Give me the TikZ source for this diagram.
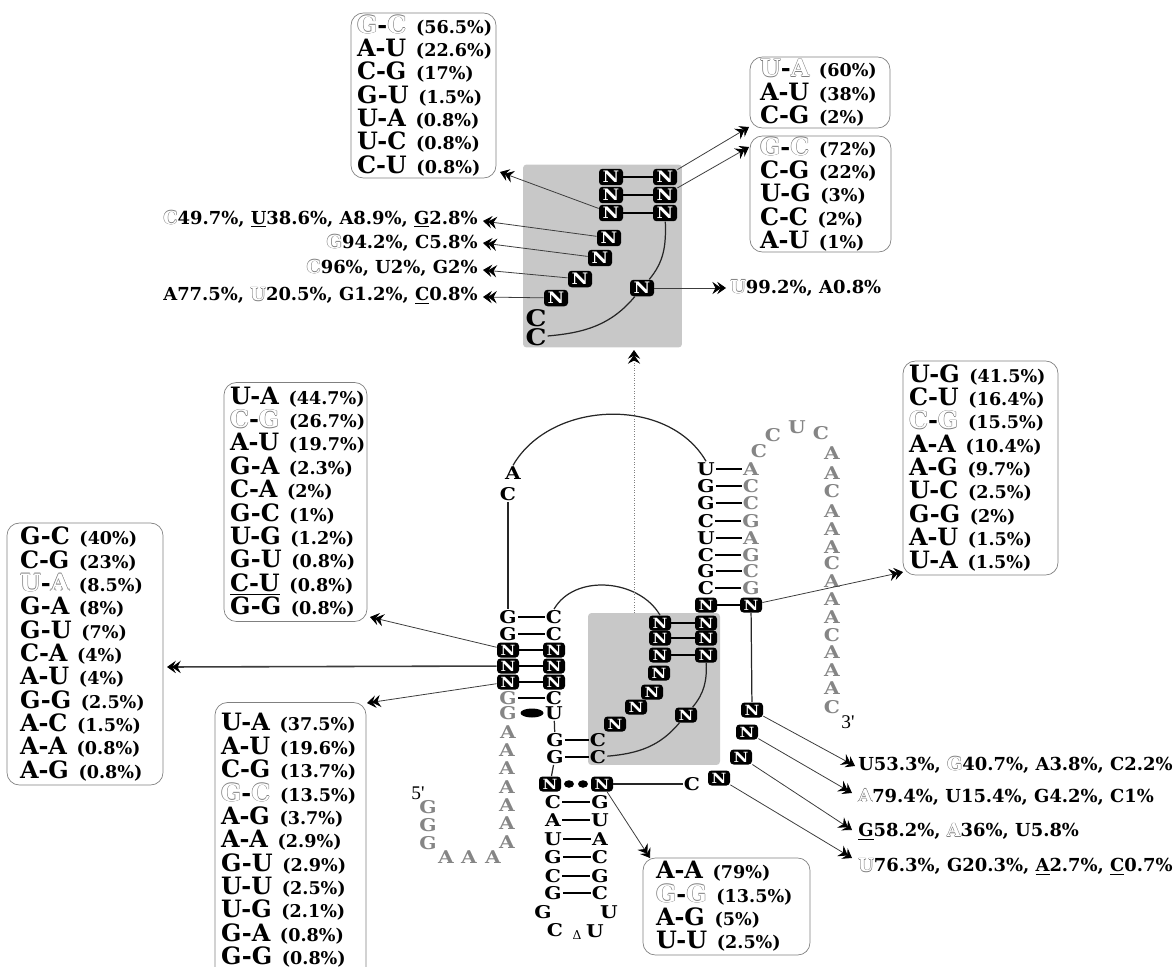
\documentclass[tikz,border=0pt]{standalone}
\usepackage{fontspec}
\setmainfont{DejaVu Serif}
\newfontfamily\primefont{Liberation Serif}
\newfontfamily\stemfont{DejaVu Serif Bold}[FakeStretch=1.15]
\usetikzlibrary{arrows.meta,shapes.geometric}
\definecolor{panel}{HTML}{C8C8C8}
\definecolor{faded}{HTML}{858585}
\definecolor{rim}{HTML}{808080}
\definecolor{wire}{HTML}{3C3C3C}
\newcommand{\hl}[1]{\leavevmode\rlap{\kern-.3pt\textcolor{rim}{#1}}\rlap{\kern.3pt\textcolor{rim}{#1}}\rlap{\raisebox{.3pt}{\textcolor{rim}{#1}}}\rlap{\raisebox{-.3pt}{\textcolor{rim}{#1}}}\textcolor{white}{#1}}
\newcommand{\bp}[2]{\mbox{{\fontsize{13.6}{13.3}\selectfont #1}\hspace{5.5pt}(#2\%)}}

\begin{document}
\begin{tikzpicture}[x=0.02cm,y=-0.02cm,
bptable/.style={draw=rim,rounded corners=7pt,align=left,inner xsep=.12cm,inner ysep=0pt,font=\fontsize{10}{13.3}\bfseries\selectfont},
panelbox/.style={fill=panel,rounded corners=2pt,inner sep=0pt},
nn/.style={fill=black,rounded corners=2pt,text=white,minimum width=.44cm,minimum height=.3cm,inner sep=0pt,font=\stemfont\fontsize{8}{8}\selectfont},
nntop/.style={nn,minimum width=.48cm,minimum height=.33cm,font=\stemfont\fontsize{9}{9}\selectfont},
ltr/.style={inner sep=.5pt,font=\stemfont\fontsize{10}{10}\selectfont},
cltr/.style={inner sep=.5pt,font=\stemfont\fontsize{13}{13}\selectfont},
gltr/.style={ltr,text=faded},
freq/.style={inner sep=0pt,font=\fontsize{10.2}{12}\bfseries\selectfont},
prime/.style={inner sep=0pt,font=\primefont\fontsize{11}{11}\selectfont},
blob/.style={ellipse,fill=black,inner sep=0pt,minimum width=.46cm,minimum height=.18cm},
dotb/.style={ellipse,fill=black,inner sep=0pt,minimum width=.2cm,minimum height=.15cm},
pair/.style={draw=black,line width=1.2pt},
strand/.style={draw=black!85,line width=.7pt},
edge/.style={-{Stealth[length=5pt,width=7pt,inset=1.8pt,sep=-2.2pt,color=black]Stealth[length=5pt,width=7pt,inset=1.8pt,color=black]},draw=wire,line width=.45pt}]
\path[use as bounding box] (0,0) rectangle (1175,966);
\clip (0,0) rectangle (1175,966);
% shaded panels
\node[panelbox,minimum width=3.18cm,minimum height=3.66cm] (toppanel) at (602.5,256) {};
\node[panelbox,minimum width=2.64cm,minimum height=3.04cm] (lowpanel) at (654,689) {};
% frequency tables
\node[bptable,text width=2.66cm,minimum height=3.3cm] (tblA) at (423.5,95.5) {\bp{\hl{G}-\hl{C}}{56.5}\\\bp{A-U}{22.6}\\\bp{C-G}{17}\\\bp{G-U}{1.5}\\\bp{U-A}{0.8}\\\bp{U-C}{0.8}\\\bp{C-U}{0.8}};
\node[bptable,text width=2.4cm,inner xsep=.2cm,minimum height=1.42cm] (tblB) at (820,92.5) {\bp{\hl{U}-\hl{A}}{60}\\\bp{A-U}{38}\\\bp{C-G}{2}};
\node[bptable,text width=2.42cm,inner xsep=.2cm,minimum height=2.32cm] (tblC) at (820.5,194) {\bp{\hl{G}-\hl{C}}{72}\\\bp{C-G}{22}\\\bp{U-G}{3}\\\bp{C-C}{2}\\\bp{A-U}{1}};
\node[bptable,text width=2.86cm,minimum height=4.28cm] (tblD) at (980.5,468) {\bp{U-G}{41.5}\\\bp{C-U}{16.4}\\\bp{\hl{C}-\hl{G}}{15.5}\\\bp{A-A}{10.4}\\\bp{A-G}{9.7}\\\bp{U-C}{2.5}\\\bp{G-G}{2}\\\bp{A-U}{1.5}\\\bp{U-A}{1.5}};
\node[bptable,text width=2.62cm,minimum height=4.78cm] (tblE) at (295.5,502) {\bp{U-A}{44.7}\\\bp{\hl{C}-\hl{G}}{26.7}\\\bp{A-U}{19.7}\\\bp{G-A}{2.3}\\\bp{C-A}{2}\\\bp{G-C}{1}\\\bp{U-G}{1.2}\\\bp{G-U}{0.8}\\\bp{\underline{C-U}}{0.8}\\\bp{G-G}{0.8}};
\node[bptable,text width=2.6cm,inner xsep=.26cm,minimum height=5.24cm] (tblF) at (85,654) {\bp{G-C}{40}\\\bp{C-G}{23}\\\bp{\hl{U}-\hl{A}}{8.5}\\\bp{G-A}{8}\\\bp{G-U}{7}\\\bp{C-A}{4}\\\bp{A-U}{4}\\\bp{G-G}{2.5}\\\bp{A-C}{1.5}\\\bp{A-A}{0.8}\\\bp{A-G}{0.8}};
\node[bptable,text width=2.78cm,minimum height=5.54cm] (tblG) at (290.5,841) {\bp{U-A}{37.5}\\\bp{A-U}{19.6}\\\bp{C-G}{13.7}\\\bp{\hl{G}-\hl{C}}{13.5}\\\bp{A-G}{3.7}\\\bp{A-A}{2.9}\\\bp{G-U}{2.9}\\\bp{U-U}{2.5}\\\bp{U-G}{2.1}\\\bp{G-A}{0.8}\\\bp{\underline{G-G}}{0.8}};
\node[bptable,text width=2.82cm,inner xsep=.26cm,minimum height=1.94cm] (tblH) at (726.5,906.5) {\bp{A-A}{79}\\\bp{\hl{G}-\hl{G}}{13.5}\\\bp{A-G}{5}\\\bp{U-U}{2.5}};
% single position frequencies
\node[freq,anchor=east] (fqA) at (478,219) {\hl{C}49.7\%, \underline{U}38.6\%, A8.9\%, \underline{G}2.8\%};
\node[freq,anchor=east] (fqB) at (478,243) {\hl{G}94.2\%, C5.8\%};
\node[freq,anchor=east] (fqC) at (478,268) {\hl{C}96\%, U2\%, G2\%};
\node[freq,anchor=east] (fqD) at (478,296) {A77.5\%, \hl{U}20.5\%, G1.2\%, \underline{C}0.8\%};
\node[freq,anchor=west] (fqE) at (730,288) {\hl{U}99.2\%, A0.8\%};
\node[freq,anchor=west] (fqF) at (858,765) {U53.3\%, \hl{G}40.7\%, A3.8\%, C2.2\%};
\node[freq,anchor=west] (fqG) at (858,797) {\hl{A}79.4\%, U15.4\%, G4.2\%, C1\%};
\node[freq,anchor=west] (fqH) at (858,832) {\underline{G}58.2\%, \hl{A}36\%, U5.8\%};
\node[freq,anchor=west] (fqI) at (858,867) {\hl{U}76.3\%, G20.3\%, \underline{A}2.7\%, \underline{C}0.7\%};
% top panel
\node[nntop] (ta1) at (611,177) {N};
\node[nntop] (tb1) at (665,177) {N};
\node[nntop] (ta2) at (611,195) {N};
\node[nntop] (tb2) at (665,195) {N};
\node[nntop] (ta3) at (611,213) {N};
\node[nntop] (tb3) at (665,213) {N};
\node[nntop] (ts1) at (609,238) {N};
\node[nntop] (ts2) at (600,258) {N};
\node[nntop] (ts3) at (580,279) {N};
\node[nntop] (ts4) at (556,298) {N};
\node[nntop] (ts5) at (642,288) {N};
\node[cltr] (tc1) at (536,318) {C};
\node[cltr] (tc2) at (536,337) {C};
% loop letters
\node[ltr] (lpA) at (513,473) {A};
\node[ltr] (lpC) at (508,494) {C};
% right stem
\node[ltr] (ra1) at (706,469) {U};
\node[gltr] (rb1) at (751,469) {A};
\node[ltr] (ra2) at (706,486) {G};
\node[gltr] (rb2) at (751,486) {C};
\node[ltr] (ra3) at (706,503) {G};
\node[gltr] (rb3) at (751,503) {C};
\node[ltr] (ra4) at (706,521) {C};
\node[gltr] (rb4) at (751,521) {G};
\node[ltr] (ra5) at (706,538) {U};
\node[gltr] (rb5) at (751,538) {A};
\node[ltr] (ra6) at (706,555) {C};
\node[gltr] (rb6) at (751,555) {G};
\node[ltr] (ra7) at (706,571) {G};
\node[gltr] (rb7) at (751,571) {C};
\node[ltr] (ra8) at (706,588) {C};
\node[gltr] (rb8) at (751,588) {G};
\node[nn] (ra9) at (706,605) {N};
\node[nn] (rb9) at (751,605) {N};
% low panel
\node[nn] (pa1) at (660,623) {N};
\node[nn] (pb1) at (706,623) {N};
\node[nn] (pa2) at (660,638) {N};
\node[nn] (pb2) at (706,638) {N};
\node[nn] (pa3) at (660,655) {N};
\node[nn] (pb3) at (706,655) {N};
\node[nn] (ps1) at (659,673) {N};
\node[nn] (ps2) at (652,692) {N};
\node[nn] (ps3) at (636,707) {N};
\node[nn] (ps4) at (615,724) {N};
\node[nn] (ps5) at (686,715) {N};
\node[ltr] (pg1) at (555,740) {G};
\node[ltr] (pc1) at (598,740) {C};
\node[ltr] (pg2) at (555,757) {G};
\node[ltr] (pc2) at (598,757) {C};
% left stem
\node[ltr] (la1) at (508,617) {G};
\node[ltr] (lb1) at (554,617) {C};
\node[ltr] (la2) at (508,634) {G};
\node[ltr] (lb2) at (554,634) {C};
\node[nn] (la3) at (508,650) {N};
\node[nn] (lb3) at (554,650) {N};
\node[nn] (la4) at (508,666) {N};
\node[nn] (lb4) at (554,666) {N};
\node[nn] (la5) at (508,682) {N};
\node[nn] (lb5) at (554,682) {N};
\node[gltr] (la6) at (508,698) {G};
\node[ltr] (lb6) at (554,698) {C};
\node[gltr] (la7) at (508,713) {G};
\node[blob] (lwob) at (532,713) {};
\node[ltr] (lb7) at (554,713) {U};
% 5' tail
\node[gltr] (ga1) at (508,732) {A};
\node[gltr] (ga2) at (507,750) {A};
\node[gltr] (ga3) at (507,768) {A};
\node[gltr] (ga4) at (507,787) {A};
\node[gltr] (ga5) at (507,805) {A};
\node[gltr] (ga6) at (507,823) {A};
\node[gltr] (ga7) at (507,842) {A};
\node[gltr] (ga8) at (493,857) {A};
\node[gltr] (ga9) at (469,857) {A};
\node[gltr] (ga10) at (446,857) {A};
\node[gltr] (gg1) at (428,843) {G};
\node[gltr] (gg2) at (428,825) {G};
\node[gltr] (gg3) at (428,807) {G};
\node[prime] (five) at (418,793) {5'};
% lower stem
\node[nn] (ma1) at (550,784) {N};
\node[dotb] (mdot1) at (569,784) {};
\node[dotb] (mdot2) at (583,784) {};
\node[nn] (mb1) at (602,784) {N};
\node[ltr] (mc) at (692,784) {C};
\node[ltr] (ma2) at (553,802) {C};
\node[ltr] (mb2) at (600,802) {G};
\node[ltr] (ma3) at (553,820) {A};
\node[ltr] (mb3) at (600,820) {U};
\node[ltr] (ma4) at (553,839) {U};
\node[ltr] (mb4) at (600,839) {A};
\node[ltr] (ma5) at (553,857) {G};
\node[ltr] (mb5) at (600,857) {C};
\node[ltr] (ma6) at (553,876) {C};
\node[ltr] (mb6) at (600,876) {G};
\node[ltr] (ma7) at (553,893) {G};
\node[ltr] (mb7) at (600,893) {C};
\node[ltr] (hpG) at (543,912) {G};
\node[ltr] (hpU) at (609,912) {U};
\node[ltr] (hpC) at (555,930) {C};
\node[inner sep=0pt,font=\fontsize{7}{7}\selectfont] (hpT) at (577,935) {Δ};
\node[ltr] (hpV) at (595,931) {U};
% 3' tail
\node[gltr] (tq1) at (759,451) {C};
\node[gltr] (tq2) at (773,435) {C};
\node[gltr] (tq3) at (797,427) {U};
\node[gltr] (tq4) at (821,433) {C};
\node[gltr] (tq5) at (832,453) {A};
\node[gltr] (tq6) at (832,473) {A};
\node[gltr] (tq7) at (832,491) {C};
\node[gltr] (tq8) at (832,511) {A};
\node[gltr] (tq9) at (832,529) {A};
\node[gltr] (tq10) at (832,547) {A};
\node[gltr] (tq11) at (832,563) {C};
\node[gltr] (tq12) at (832,581) {A};
\node[gltr] (tq13) at (832,599) {A};
\node[gltr] (tq14) at (832,617) {A};
\node[gltr] (tq15) at (832,635) {C};
\node[gltr] (tq16) at (832,652) {A};
\node[gltr] (tq17) at (832,670) {A};
\node[gltr] (tq18) at (832,688) {A};
\node[gltr] (tq19) at (832,707) {C};
\node[prime] (three) at (848,722) {3'};
% unpaired N
\node[nn] (un1) at (752,710) {N};
\node[nn] (un2) at (747,732) {N};
\node[nn] (un3) at (741,757) {N};
\node[nn] (un4) at (719,778) {N};
% arrow ends
\coordinate (tipA) at (500,172);
\coordinate (tipB) at (749,127);
\coordinate (tipC) at (749,147);
\coordinate (tipD) at (483,221);
\coordinate (tipE) at (483,243);
\coordinate (tipF) at (483,270);
\coordinate (tipG) at (483,297);
\coordinate (tipH) at (726,288);
\coordinate (tipI) at (903,572);
\coordinate (tipJ) at (370,617);
\coordinate (tipK) at (167,667);
\coordinate (tipL) at (367,703);
\coordinate (tipM) at (650,858);
\coordinate (tipN) at (855,766);
\coordinate (tipO) at (852,793);
\coordinate (tipP) at (852,830);
\coordinate (tipQ) at (852,858);
\coordinate (dotfoot) at (634,613);
\coordinate (dottip) at (634,350);
% base pairs
\draw[pair] (ta1) -- (tb1);
\draw[pair] (ta2) -- (tb2);
\draw[pair] (ta3) -- (tb3);
\draw[pair] (ra1) -- (rb1);
\draw[pair] (ra2) -- (rb2);
\draw[pair] (ra3) -- (rb3);
\draw[pair] (ra4) -- (rb4);
\draw[pair] (ra5) -- (rb5);
\draw[pair] (ra6) -- (rb6);
\draw[pair] (ra7) -- (rb7);
\draw[pair] (ra8) -- (rb8);
\draw[pair] (ra9) -- (rb9);
\draw[pair] (pa1) -- (pb1);
\draw[pair] (pa2) -- (pb2);
\draw[pair] (pa3) -- (pb3);
\draw[pair] (pg1) -- (pc1);
\draw[pair] (pg2) -- (pc2);
\draw[pair] (la1) -- (lb1);
\draw[pair] (la2) -- (lb2);
\draw[pair] (la3) -- (lb3);
\draw[pair] (la4) -- (lb4);
\draw[pair] (la5) -- (lb5);
\draw[pair] (la6) -- (lb6);
\draw[pair] (ma2) -- (mb2);
\draw[pair] (ma3) -- (mb3);
\draw[pair] (ma4) -- (mb4);
\draw[pair] (ma5) -- (mb5);
\draw[pair] (ma6) -- (mb6);
\draw[pair] (ma7) -- (mb7);
% backbone
\draw[strand] (lpC) -- (la1);
\draw[strand] (lb7) -- (pg1);
\draw[strand] (pg2) -- (ma1);
\draw[strand] (mb1) -- (mc);
\draw[strand] (rb9) -- (un1);
\draw[strand] (lpA.north) to[out=60,in=120] (ra1.north);
\draw[strand] (lb1.north) to[out=60,in=120] (pa1.north);
\draw[strand] (tb3) to[out=-88,in=50] (ts5);
\draw[strand] (ts5) to[out=-130,in=5] (tc2);
\draw[strand] (pb3) to[out=-88,in=50] (ps5);
\draw[strand] (ps5) to[out=-130,in=5] (pc2);
% frequency arrows
\draw[edge] (ta3) -- (tipA);
\draw[edge] (tb1) -- (tipB);
\draw[edge] (tb2) -- (tipC);
\draw[edge] (ts1) -- (tipD);
\draw[edge] (ts2) -- (tipE);
\draw[edge] (ts3) -- (tipF);
\draw[edge] (ts4) -- (tipG);
\draw[edge] (ts5) -- (tipH);
\draw[edge] (rb9) -- (tipI);
\draw[edge] (la3) -- (tipJ);
\draw[edge,line width=.9pt] (la4) -- (tipK);
\draw[edge] (la5) -- (tipL);
\draw[edge] (mb1) -- (tipM);
\draw[edge] (un1) -- (tipN);
\draw[edge] (un2) -- (tipO);
\draw[edge] (un3) -- (tipP);
\draw[edge] (un4) -- (tipQ);
\draw[edge,densely dotted,draw=rim] (dotfoot) -- (dottip);
\end{tikzpicture}
\end{document}
